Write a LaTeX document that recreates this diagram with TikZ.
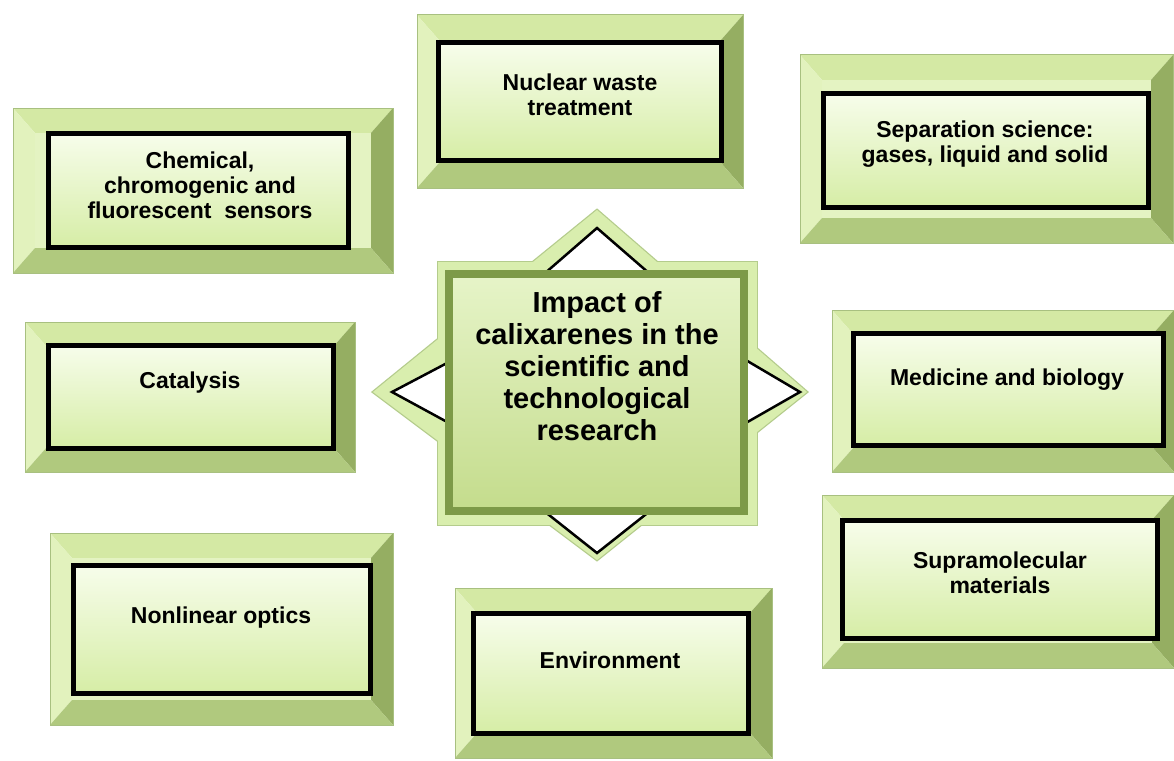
\documentclass[tikz,border=0pt]{standalone}
\usepackage{fontspec}
\setmainfont{Liberation Sans}
\usetikzlibrary{calc}
\definecolor{bvT}{HTML}{D4E9A4}
\definecolor{bvL}{HTML}{E2F2BD}
\definecolor{bvR}{HTML}{95AE62}
\definecolor{bvB}{HTML}{B0C97E}
\definecolor{bvFace}{HTML}{E4F3C2}
\definecolor{bvLine}{HTML}{A8C080}
\definecolor{faceT}{HTML}{F7FDEB}
\definecolor{faceB}{HTML}{D6EDA6}
\definecolor{starFill}{HTML}{D9EEAE}
\definecolor{starLine}{HTML}{B4CC8C}
\definecolor{frameC}{HTML}{7D9A48}
\definecolor{sqT}{HTML}{E6F4C8}
\definecolor{sqB}{HTML}{C4DC8C}
\tikzset{
  lbl/.style={font=\bfseries\fontsize{23}{25}\selectfont, align=center, text=black, inner sep=0pt},
  biglbl/.style={font=\bfseries\fontsize{29}{32}\selectfont, align=center, text=black, inner sep=0pt},
  blackbox/.style={draw=black, line width=5pt, top color=faceT, bottom color=faceB},
  tri/.style={fill=white, draw=black, line width=2.5pt, line join=miter},
  startline/.style={draw=starLine, line width=2.5pt},
}
% outer x1 y1 x2 y2, black box x1 y1 x2 y2
\newcommand{\bevbox}[8]{%
  \fill[bvT] (#1,#2) -- (#3,#2) -- (#3-22,#2+25) -- (#1+22,#2+25) -- cycle;
  \fill[bvL] (#1,#2) -- (#1+22,#2+25) -- (#1+22,#4-25) -- (#1,#4) -- cycle;
  \fill[bvR] (#3,#2) -- (#3,#4) -- (#3-22,#4-25) -- (#3-22,#2+25) -- cycle;
  \fill[bvB] (#1,#4) -- (#1+22,#4-25) -- (#3-22,#4-25) -- (#3,#4) -- cycle;
  \fill[bvFace] (#1+22,#2+25) rectangle (#3-22,#4-25);
  \draw[bvLine, line width=1pt] (#1,#2) rectangle (#3,#4);
  \path[blackbox] (#5,#6) rectangle (#7,#8);
}
\begin{document}
\begin{tikzpicture}[x=1pt,y=-1pt]
\useasboundingbox[fill=white] (0,0) rectangle (1174,760);

% boxes
\bevbox{13}{108}{393}{273}{48}{133}{348}{247}
\node[lbl] (chem) at (200,185) {Chemical,\\chromogenic and\\fluorescent\ \ sensors};

\bevbox{417}{15}{743}{188}{438}{43}{721}{160}
\node[lbl] (nuc) at (580,95) {Nuclear waste\\treatment};

\bevbox{800}{55}{1173}{243}{823}{93}{1148}{207}
\node[lbl] (sep) at (985,144) {Separation science:\\gases, liquid and solid};

\bevbox{25}{322}{355}{472}{48}{345}{333}{448}
\node[lbl] (cat) at (190,383) {Catalysis};

\bevbox{832}{310}{1174}{472}{853}{333}{1163}{445}
\node[lbl] (med) at (1007,380) {Medicine and biology};

\bevbox{50}{533}{393}{725}{73}{565}{370}{693}
\node[lbl] (nlo) at (221,618) {Nonlinear optics};

\bevbox{822}{495}{1174}{668}{842}{520}{1157}{638}
\node[lbl] (sup) at (1000,573) {Supramolecular\\materials};

\bevbox{455}{588}{772}{758}{473}{613}{748}{733}
\node[lbl] (env) at (610,660) {Environment};

% central star
\path[startline] (597,210) -- (807,392) -- (597,560) -- (373,392) -- cycle;
\path[startline] (438,262) rectangle (757,525);
\fill[starFill] (597,210) -- (807,392) -- (597,560) -- (373,392) -- cycle;
\fill[starFill] (438,262) rectangle (757,525);

\path[tri] (597,228) -- (650,274) -- (544,274) -- cycle;
\path[tri] (392,392) -- (449,362) -- (449,423) -- cycle;
\path[tri] (800,392) -- (744,359) -- (744,424) -- cycle;
\path[tri] (597,553) -- (650,511) -- (544,511) -- cycle;

\path[draw=frameC, line width=8pt, top color=sqT, bottom color=sqB] (449,274) rectangle (744,511);
\node[biglbl] (center) at (597,366) {Impact of\\calixarenes in the\\scientific and\\technological\\research};
\end{tikzpicture}
\end{document}
